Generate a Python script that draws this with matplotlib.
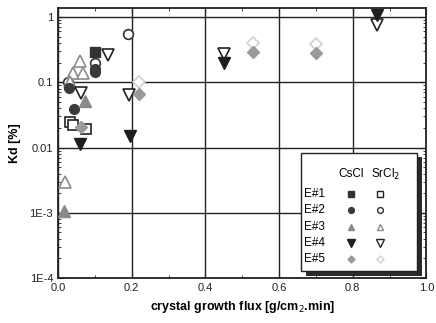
import matplotlib
matplotlib.use('Agg')
import matplotlib.pyplot as plt
from matplotlib.ticker import FixedLocator, FixedFormatter, LogLocator, MultipleLocator, NullFormatter
from matplotlib.patches import Rectangle

plt.rcParams['font.family'] = ['Liberation Sans', 'DejaVu Sans']

# CsCl (filled) and SrCl2 (open) series, x = growth flux, y = Kd [%]
cscl_e1_x = [0.10]
cscl_e1_y = [0.29]
cscl_e2_x = [0.10, 0.10, 0.030, 0.043]
cscl_e2_y = [0.16, 0.145, 0.082, 0.039]
cscl_e3_x = [0.072, 0.016]
cscl_e3_y = [0.052, 0.00107]
cscl_e4_x = [0.059, 0.195, 0.45, 0.866]
cscl_e4_y = [0.0115, 0.015, 0.20, 1.07]
cscl_e5_x = [0.062, 0.22, 0.53, 0.70]
cscl_e5_y = [0.021, 0.066, 0.29, 0.28]

srcl_e1_x = [0.032, 0.040, 0.077]
srcl_e1_y = [0.025, 0.022, 0.019]
srcl_e2_x = [0.19, 0.10, 0.028]
srcl_e2_y = [0.55, 0.20, 0.10]
srcl_e3_x = [0.059, 0.040, 0.067, 0.032, 0.019]
srcl_e3_y = [0.21, 0.14, 0.14, 0.10, 0.003]
srcl_e4_x = [0.137, 0.062, 0.193, 0.45, 0.866]
srcl_e4_y = [0.26, 0.068, 0.063, 0.27, 0.76]
srcl_e5_x = [0.22, 0.53, 0.70]
srcl_e5_y = [0.10, 0.40, 0.38]

row_labels = ['E#1', 'E#2', 'E#3', 'E#4', 'E#5']
x_ticks = [0.0, 0.2, 0.4, 0.6, 0.8, 1.0]
y_ticks = [1e-4, 1e-3, 1e-2, 1e-1, 1]
y_tick_labels = ['1E-4', '1E-3', '0.01', '0.1', '1']

# marker styles per experiment: (marker, filled colour, open edge colour)
styles = [
    ('s', '#333333', '#222222'),
    ('o', '#3a3a3a', '#333333'),
    ('^', '#8a8a8a', '#8c8c8c'),
    ('v', '#1e1e1e', '#222222'),
    ('D', '#9a9a9a', '#d0d0d0'),
]
sizes = [7, 7, 8, 9, 6]

cscl = [(cscl_e1_x, cscl_e1_y), (cscl_e2_x, cscl_e2_y), (cscl_e3_x, cscl_e3_y),
        (cscl_e4_x, cscl_e4_y), (cscl_e5_x, cscl_e5_y)]
srcl = [(srcl_e1_x, srcl_e1_y), (srcl_e2_x, srcl_e2_y), (srcl_e3_x, srcl_e3_y),
        (srcl_e4_x, srcl_e4_y), (srcl_e5_x, srcl_e5_y)]

fig = plt.figure(figsize=(4.36, 3.23), dpi=100)
ax = fig.add_axes([0.133, 0.139, 0.845, 0.836])
ax.set_yscale('log')
ax.set_xlim(0, 1.0)
ax.set_ylim(1e-4, 1.37)

ax.grid(True, which='major', color='#222222', linewidth=1.0)
ax.set_axisbelow(True)

for (mk, fc, ec), ms, (sx, sy), (cx, cy) in zip(styles, sizes, srcl, cscl):
    ax.plot(sx, sy, linestyle='none', marker=mk, markersize=ms, markerfacecolor='white',
            markeredgecolor=ec, markeredgewidth=1.2, zorder=3)
    ax.plot(cx, cy, linestyle='none', marker=mk, markersize=ms, markerfacecolor=fc,
            markeredgecolor=fc, zorder=4)

ax.set_xticks(x_ticks)
ax.set_xticklabels([f'{v:.1f}' for v in x_ticks])
ax.xaxis.set_minor_locator(MultipleLocator(0.1))
ax.yaxis.set_major_locator(FixedLocator(y_ticks))
ax.yaxis.set_major_formatter(FixedFormatter(y_tick_labels))
ax.yaxis.set_minor_locator(LogLocator(base=10, subs=range(2, 10)))
ax.yaxis.set_minor_formatter(NullFormatter())
ax.tick_params(which='both', direction='in', top=True, right=True, labelsize=8, colors='#222222')
ax.tick_params(which='major', length=4)
ax.tick_params(which='minor', length=2.5)
for s in ax.spines.values():
    s.set_linewidth(1.3)
    s.set_color('#222222')

ax.set_xlabel('crystal growth flux [g/cm$_2$.min]', fontsize=9, fontweight='bold', labelpad=4)
ax.set_ylabel('Kd [%]', fontsize=9, fontweight='bold', labelpad=6)

# hand-drawn legend table with shadow, in axes coordinates
lx0, ly0, lw, lh = 0.66, 0.025, 0.315, 0.44
ax.add_patch(Rectangle((lx0 + 0.012, ly0 - 0.016), lw, lh, transform=ax.transAxes,
                       facecolor='#2a2a2a', edgecolor='none', zorder=6, clip_on=False))
ax.add_patch(Rectangle((lx0, ly0), lw, lh, transform=ax.transAxes,
                       facecolor='white', edgecolor='#222222', linewidth=1.0, zorder=7))
col_cs = lx0 + 0.135
col_sr = lx0 + 0.215
ax.text(col_cs, ly0 + lh - 0.08, 'CsCl', transform=ax.transAxes, ha='center', va='center',
        fontsize=8.5, zorder=8)
ax.text(col_sr + 0.015, ly0 + lh - 0.08, 'SrCl$_2$', transform=ax.transAxes, ha='center',
        va='center', fontsize=8.5, zorder=8)
for i, lab in enumerate(row_labels):
    yy = ly0 + lh - 0.152 - i * 0.061
    mk, fc, ec = styles[i]
    ax.text(lx0 + 0.008, yy, lab, transform=ax.transAxes, ha='left', va='center',
            fontsize=8.5, zorder=8)
    ax.plot([col_cs], [yy], transform=ax.transAxes, marker=mk, markersize=sizes[i] * 0.6,
            markerfacecolor=fc, markeredgecolor=fc, linestyle='none', zorder=8, clip_on=False)
    ax.plot([col_sr], [yy], transform=ax.transAxes, marker=mk, markersize=sizes[i] * 0.6,
            markerfacecolor='white', markeredgecolor=ec, markeredgewidth=1.0,
            linestyle='none', zorder=8, clip_on=False)

fig.savefig('out.png', dpi=100)
